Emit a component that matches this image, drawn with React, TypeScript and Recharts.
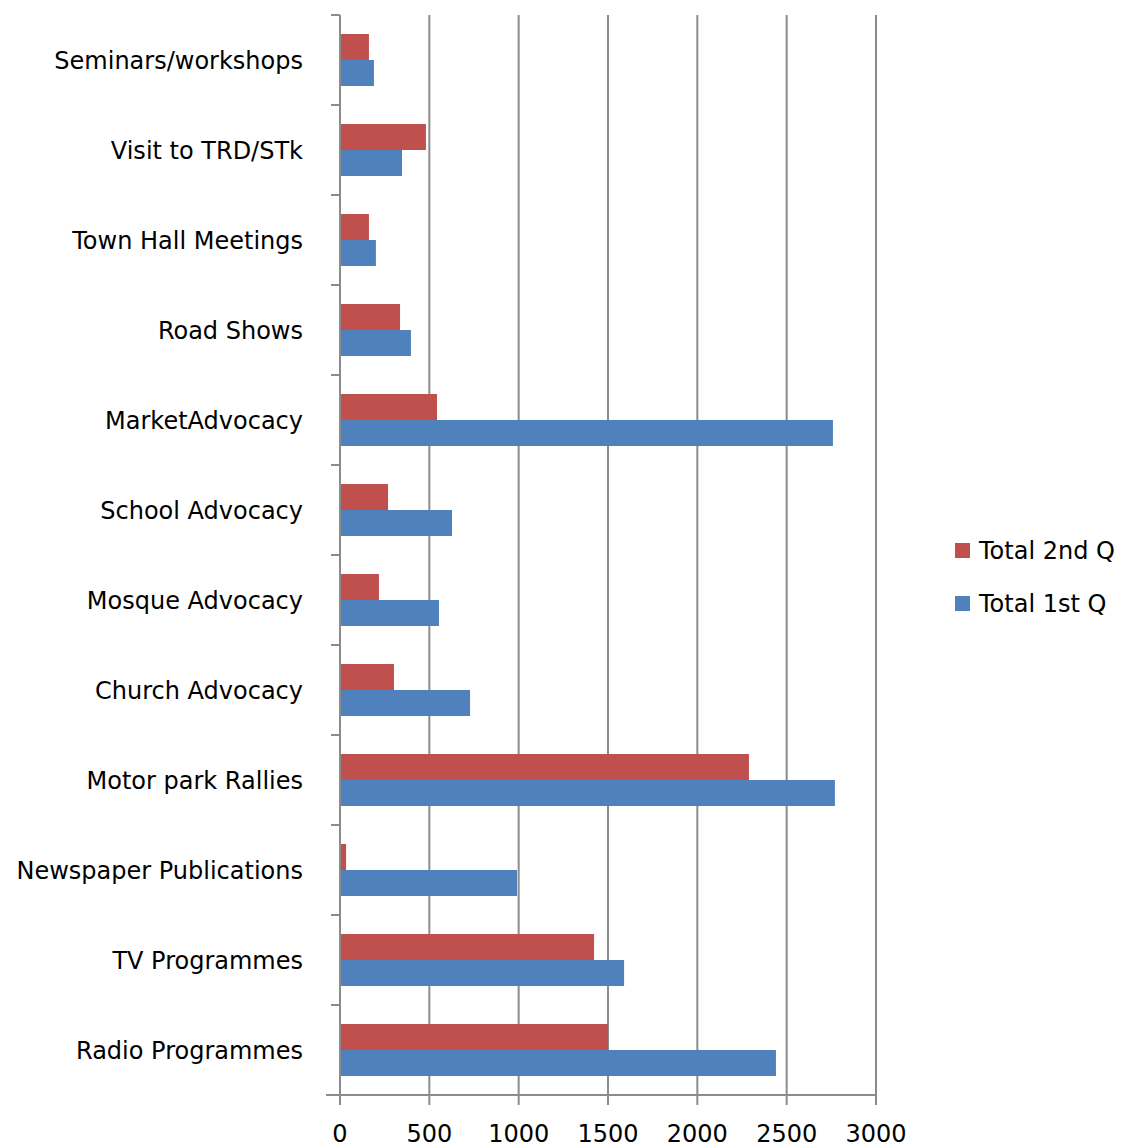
import React from "react"
import { Bar, BarChart, CartesianGrid, Legend, XAxis, YAxis } from "recharts"

const categories = [
  "Seminars/workshops",
  "Visit to TRD/STk",
  "Town Hall Meetings",
  "Road Shows",
  "MarketAdvocacy",
  "School Advocacy",
  "Mosque Advocacy",
  "Church Advocacy",
  "Motor park Rallies",
  "Newspaper Publications",
  "TV Programmes",
  "Radio Programmes",
]
const total2ndQ = [162, 481, 162, 336, 543, 269, 218, 302, 2289, 34, 1422, 1500]
const total1stQ = [190, 347, 201, 397, 2759, 627, 554, 728, 2770, 991, 1590, 2440]
const xTicks = [0, 500, 1000, 1500, 2000, 2500, 3000]

const data = categories.map((name, i) => ({
  name,
  q2: total2ndQ[i],
  q1: total1stQ[i],
}))

const W = 1131
const H = 1148
const TOP = 15
const XAXIS_H = 53
const FONT = "'Comic Sans MS', 'DejaVu Sans', sans-serif"
const GRID = "#8c8c8c"
const RED = "#C0504D"
const BLUE = "#4F81BD"

const band = (H - TOP - XAXIS_H) / categories.length

function CategoryTick(props: any) {
  const { x, y, payload, index } = props
  const ax = x + 37
  return (
    <g>
      <line x1={ax - 9} x2={ax} y1={y - band / 2} y2={y - band / 2} stroke={GRID} strokeWidth={2} />
      {index === categories.length - 1 && (
        <line x1={ax - 14} x2={ax} y1={y + band / 2} y2={y + band / 2} stroke={GRID} strokeWidth={2} />
      )}
      <text x={x} y={y} dy="0.355em" textAnchor="end" fill="#000" fontSize={24} fontFamily={FONT}>
        {payload.value}
      </text>
    </g>
  )
}

function LegendBox() {
  const items = [
    { label: "Total 2nd Q", color: RED },
    { label: "Total 1st Q", color: BLUE },
  ]
  return (
    <div style={{ fontFamily: FONT, fontSize: 24, color: "#000" }}>
      {items.map((it) => (
        <div key={it.label} style={{ display: "flex", alignItems: "center", height: 53 }}>
          <span style={{ width: 15, height: 15, background: it.color, marginRight: 9, display: "inline-block" }} />
          <span>{it.label}</span>
        </div>
      ))}
    </div>
  )
}

export default function App() {
  return (
    <div style={{ position: "absolute", left: 0, top: 0, background: "#fff" }}>
      <BarChart
        width={W}
        height={H}
        data={data}
        layout="vertical"
        margin={{ top: TOP, right: 255, bottom: 0, left: 0 }}
        barGap={0}
        barSize={26}
      >
        <CartesianGrid horizontal={false} stroke={GRID} strokeWidth={2} />
        <XAxis
          type="number"
          domain={[0, 3000]}
          ticks={xTicks}
          height={XAXIS_H}
          tickSize={10}
          tickMargin={20}
          axisLine={{ stroke: GRID, strokeWidth: 2 }}
          tickLine={{ stroke: GRID, strokeWidth: 2 }}
          tick={{ fill: "#000", fontSize: 24, fontFamily: FONT }}
        />
        <YAxis
          type="category"
          dataKey="name"
          width={340}
          tickSize={9}
          tickMargin={28}
          axisLine={{ stroke: GRID, strokeWidth: 2 }}
          tickLine={false}
          tick={<CategoryTick />}
          interval={0}
        />
        <Legend
          layout="vertical"
          align="center"
          verticalAlign="middle"
          content={<LegendBox />}
          wrapperStyle={{ left: 955, top: 524, width: 176 }}
        />
        <Bar dataKey="q2" name="Total 2nd Q" fill={RED} isAnimationActive={false} />
        <Bar dataKey="q1" name="Total 1st Q" fill={BLUE} isAnimationActive={false} />
      </BarChart>
    </div>
  )
}
